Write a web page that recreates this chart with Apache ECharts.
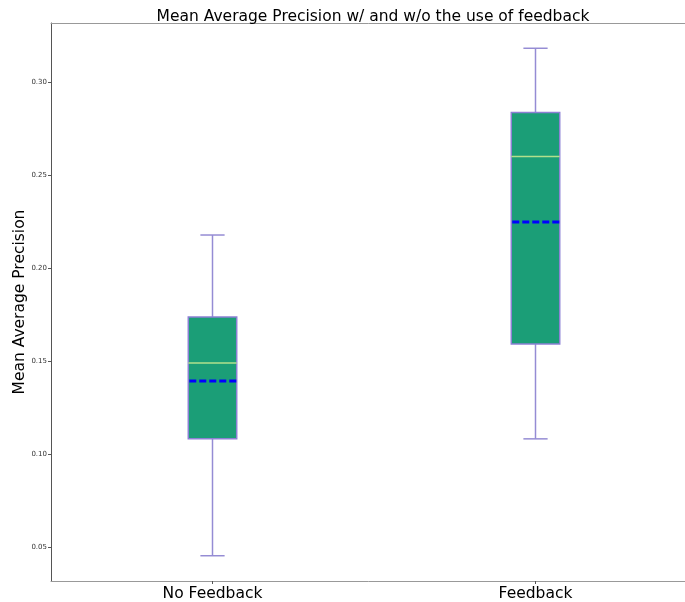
<!DOCTYPE html>
<html>
<head>
<meta charset="utf-8">
<script src="https://cdn.jsdelivr.net/npm/echarts@6/dist/echarts.min.js"></script>
<style>html,body{margin:0;padding:0;background:#fff}#chart{width:685px;height:602px}</style>
</head>
<body>
<div id="chart"></div>
<script>
// Per-group summary statistics of mean average precision
var categories = ['No Feedback', 'Feedback'];
var whiskerLow  = [0.0452, 0.1081];
var quartile1   = [0.1081, 0.1592];
var medians     = [0.1489, 0.2600];
var quartile3   = [0.1737, 0.2838];
var whiskerHigh = [0.2178, 0.3183];
var means       = [0.1392, 0.2248];
var yTicks      = [0.05, 0.10, 0.15, 0.20, 0.25, 0.30];

var rows = categories.map(function (c, i) {
  return [i, whiskerLow[i], quartile1[i], medians[i], quartile3[i], whiskerHigh[i], means[i]];
});

var FONT = 'DejaVu Sans';

function renderBox(params, api) {
  var i = api.value(0);
  var unit = api.size([1, 0])[0];
  var bw = unit * 0.15;
  var cw = bw / 2;
  var pLo = api.coord([i, api.value(1)]);
  var pQ1 = api.coord([i, api.value(2)]);
  var pMd = api.coord([i, api.value(3)]);
  var pQ3 = api.coord([i, api.value(4)]);
  var pHi = api.coord([i, api.value(5)]);
  var pMn = api.coord([i, api.value(6)]);
  var x = pQ1[0];
  var wStyle = { stroke: '#958cd4', lineWidth: 1.5 };
  return {
    type: 'group',
    children: [
      { type: 'line', shape: { x1: x, y1: pQ1[1], x2: x, y2: pLo[1] }, style: wStyle },
      { type: 'line', shape: { x1: x, y1: pQ3[1], x2: x, y2: pHi[1] }, style: wStyle },
      { type: 'line', shape: { x1: x - cw / 2, y1: pLo[1], x2: x + cw / 2, y2: pLo[1] }, style: wStyle },
      { type: 'line', shape: { x1: x - cw / 2, y1: pHi[1], x2: x + cw / 2, y2: pHi[1] }, style: wStyle },
      { type: 'rect', shape: { x: x - bw / 2, y: pQ3[1], width: bw, height: pQ1[1] - pQ3[1] },
        style: { fill: '#1b9e77', stroke: '#8c80d4', lineWidth: 1.5 } },
      { type: 'line', shape: { x1: x - bw / 2, y1: pMd[1], x2: x + bw / 2, y2: pMd[1] },
        style: { stroke: '#b2e08c', lineWidth: 1.5 } },
      { type: 'line', shape: { x1: x - bw / 2 + 1, y1: pMn[1], x2: x + bw / 2, y2: pMn[1] },
        style: { stroke: '#0000ff', lineWidth: 3, lineDash: [7, 3] } }
    ]
  };
}

var chart = echarts.init(document.getElementById('chart'), null, { renderer: 'canvas' });
chart.setOption({
  backgroundColor: '#ffffff',
  animation: false,
  title: {
    text: 'Mean Average Precision w/ and w/o the use of feedback',
    left: 368, top: 4, textAlign: 'center',
    textStyle: { fontFamily: FONT, fontSize: 15.5, fontWeight: 'normal', color: '#000' }
  },
  grid: {
    left: 51, top: 23, width: 646, height: 558,
    outerBoundsMode: 'none', containLabel: false, show: false
  },
  xAxis: [{
    type: 'category',
    data: categories,
    boundaryGap: true,
    axisLine: { show: true, lineStyle: { color: '#999', width: 1 } },
    axisTick: { show: true, alignWithLabel: true, length: 3, lineStyle: { color: '#555' } },
    axisLabel: { fontFamily: FONT, fontSize: 15.5, color: '#000', margin: 5 },
    splitLine: { show: false }
  }, {
    // top spine
    type: 'category',
    position: 'top',
    data: categories,
    axisLine: { show: true, lineStyle: { color: '#999', width: 1 } },
    axisTick: { show: false },
    axisLabel: { show: false },
    splitLine: { show: false }
  }],
  yAxis: {
    type: 'value',
    min: 0.0316,
    max: 0.3319,
    name: 'Mean Average Precision',
    nameLocation: 'middle',
    nameGap: 23,
    nameMoveOverlap: false,
    nameTextStyle: { fontFamily: FONT, fontSize: 15.5, color: '#000' },
    axisLine: { show: true, lineStyle: { color: '#555', width: 1 } },
    axisTick: { show: true, length: 3, lineStyle: { color: '#555' },
      customValues: yTicks },
    axisLabel: {
      fontFamily: FONT, fontSize: 7, color: '#333', margin: 4,
      customValues: yTicks,
      formatter: function (v) { return v.toFixed(2); }
    },
    splitLine: { show: false }
  },
  series: [{
    type: 'custom',
    renderItem: renderBox,
    encode: { x: 0, y: [1, 2, 3, 4, 5, 6] },
    data: rows,
    clip: false
  }]
});
</script>
</body>
</html>
